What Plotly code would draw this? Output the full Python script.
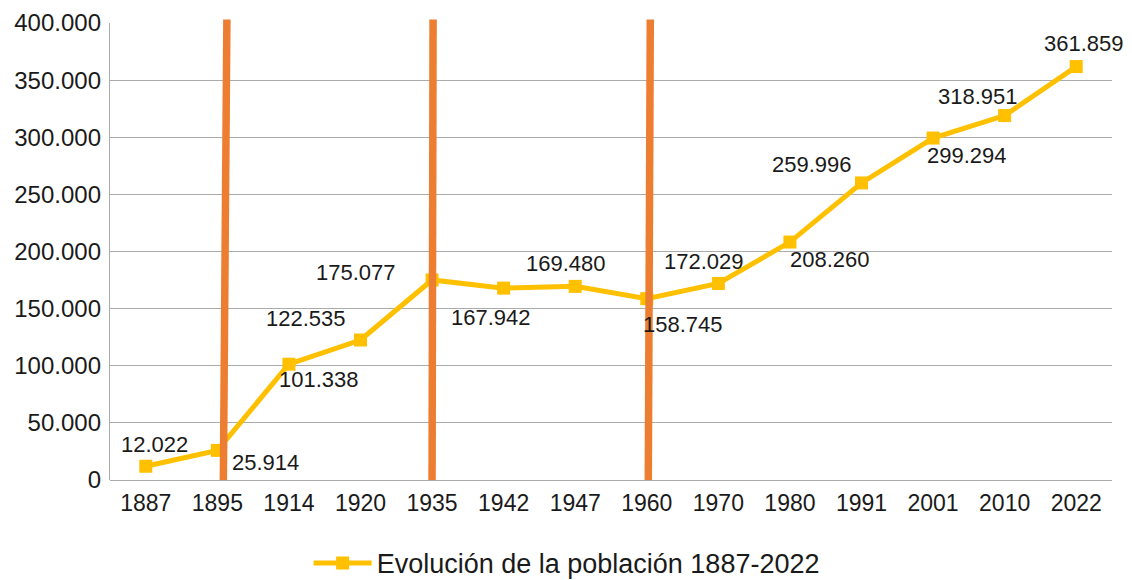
import plotly.graph_objects as go

years = ["1887", "1895", "1914", "1920", "1935", "1942", "1947",
         "1960", "1970", "1980", "1991", "2001", "2010", "2022"]
population = [12022, 25914, 101338, 122535, 175077, 167942, 169480,
              158745, 172029, 208260, 259996, 299294, 318951, 361859]
series_name = "Evolución de la población 1887-2022"
marked_years = ["1895", "1935", "1960"]
y_ticks = [0, 50000, 100000, 150000, 200000, 250000, 300000, 350000, 400000]

# label offsets in pixels (dx, dy) - layout only
label_offsets = [(9, -22), (48, 12), (30, 15), (-55, -22), (-76, -7),
                 (-13, 29), (-9, -23), (36, 26), (-14, -22), (40, 17),
                 (-50, -18), (34, 17), (-27, -19), (8, -23)]
# orange line slant (bottom offset, top offset) in category units
line_slant = [(0.084, 0.133), (0.0, 0.014), (0.021, 0.049)]

YELLOW = "#FFC000"
ORANGE = "#ED7D31"
FONT = "Liberation Sans, Arial, sans-serif"
TXT = "#1a1a1a"

def fmt(v):
    return f"{v:,}".replace(",", ".")

fig = go.Figure()
fig.add_trace(go.Scatter(
    x=years, y=population, name=series_name, mode="lines+markers",
    line=dict(color=YELLOW, width=5),
    marker=dict(symbol="square", size=13, color=YELLOW),
    cliponaxis=False,
))

for i, (v, (dx, dy)) in enumerate(zip(population, label_offsets)):
    fig.add_annotation(x=i, y=v, xref="x", yref="y", text=fmt(v),
                       showarrow=False, xshift=dx, yshift=-dy,
                       font=dict(family=FONT, size=22, color=TXT))

for yr, (b, t) in zip(marked_years, line_slant):
    idx = years.index(yr)
    fig.add_shape(type="line", xref="x", yref="paper",
                  x0=idx + b, x1=idx + t, y0=0, y1=1.0075,
                  line=dict(color=ORANGE, width=7.5), layer="above")

# page body has an 8px default margin; figure is sized to fill the window
fig.update_layout(
    width=1124, height=572,
    margin=dict(l=102, r=20, t=15, b=100, autoexpand=False),
    paper_bgcolor="white", plot_bgcolor="white",
    separators=",.",
    font=dict(family=FONT, size=23, color=TXT),
    showlegend=True,
    legend=dict(orientation="h", xref="container", yref="container",
                x=0.497, xanchor="center", y=0.029, yanchor="middle",
                font=dict(family=FONT, size=27, color=TXT),
                itemwidth=58),
)
fig.update_xaxes(
    type="category", range=[-0.5, len(years) - 0.5],
    showgrid=False, showline=False, ticks="", zeroline=False,
    ticklabelstandoff=7,
    tickfont=dict(family=FONT, size=23, color=TXT),
)
fig.update_yaxes(
    range=[0, 400000], tickvals=y_ticks, tickformat=",.0f",
    showgrid=True, gridcolor="#ABABAB", gridwidth=1.4,
    showline=True, linecolor="#ABABAB", linewidth=1.4,
    zeroline=True, zerolinecolor="#ABABAB", zerolinewidth=1.4,
    ticks="", ticklabelstandoff=3,
    tickfont=dict(family=FONT, size=24, color=TXT),
)

fig.write_html("out.html")
